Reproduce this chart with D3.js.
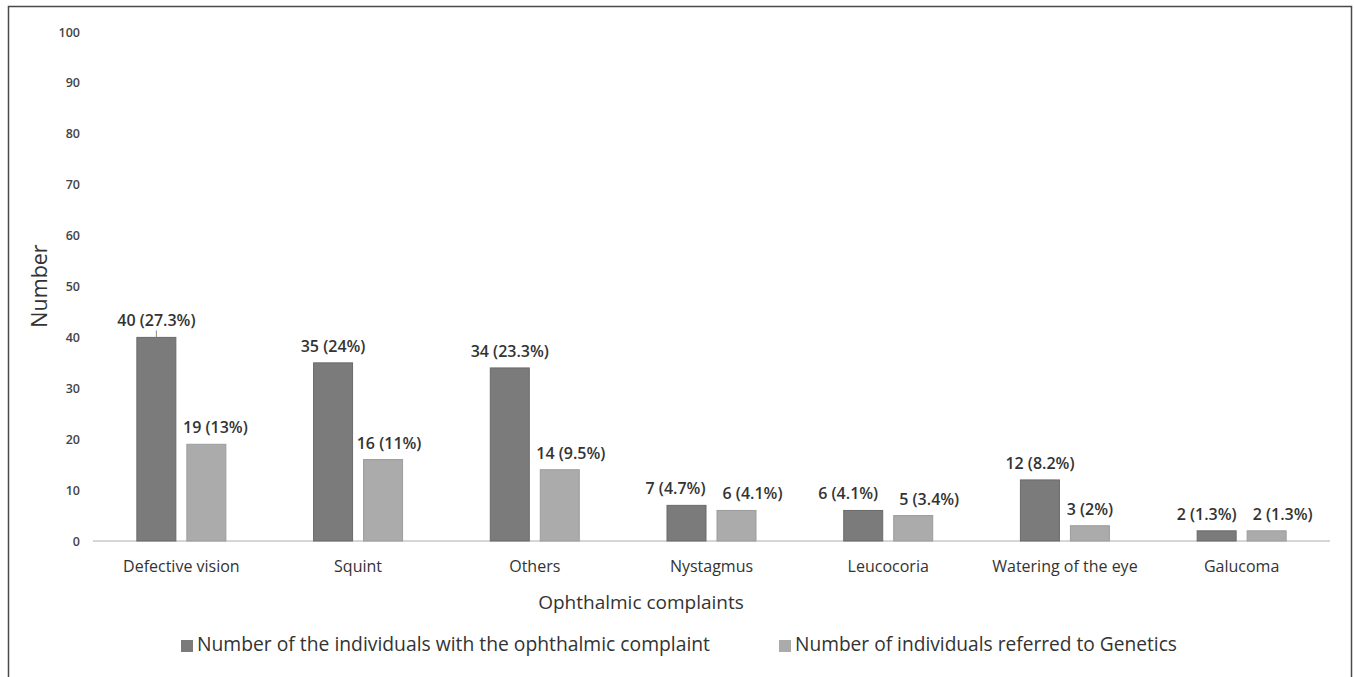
<!DOCTYPE html>
<meta charset="utf-8">
<title>Ophthalmic complaints</title>
<style>
body { margin: 0; background: white; font-family: 'Open Sans', sans-serif; }
svg { display: block; }
</style>
<body>
<script src="https://d3js.org/d3.v7.min.js"></script>
<script>
// data
const categories = ["Defective vision", "Squint", "Others", "Nystagmus", "Leucocoria", "Watering of the eye", "Galucoma"];
const complaintCounts = [40, 35, 34, 7, 6, 12, 2];
const complaintPct = ["27.3%", "24%", "23.3%", "4.7%", "4.1%", "8.2%", "1.3%"];
const referredCounts = [19, 16, 14, 6, 5, 3, 2];
const referredPct = ["13%", "11%", "9.5%", "4.1%", "3.4%", "2%", "1.3%"];
const seriesNames = ["Number of the individuals with the ophthalmic complaint", "Number of individuals referred to Genetics"];
const yTicks = [0, 10, 20, 30, 40, 50, 60, 70, 80, 90, 100];

// layout: sideways nudges of the value labels, as they sit in the picture
const nudgeDark = [0, 0, 0, -11, -15, 0, -10];
const nudgeLight = [9, 6, 11, 16, 16, 0, 16];

const W = 1354, H = 677;
const plotLeft = 93, plotRight = 1330, plotTop = 32, plotBottom = 541;
const colors = ["#7b7b7b", "#ababab"];
const strokes = ["#6a6a6a", "#9c9c9c"];

const svg = d3.select("body").append("svg")
    .attr("width", W)
    .attr("height", H);

// frame
svg.append("path")
    .attr("d", "M8.5,677 V6.5 H1351.5 V677")
    .attr("fill", "none")
    .attr("stroke", "#4a4a4a")
    .attr("stroke-width", 1.5);

const x = d3.scaleBand()
    .domain(categories)
    .range([plotLeft, plotRight]);

const x1 = d3.scaleBand()
    .domain([0, 1])
    .range([0, 89])
    .paddingInner(0.22);

const y = d3.scaleLinear()
    .domain([0, 100])
    .range([plotBottom, plotTop]);

// y tick labels (no axis line)
const yAxis = svg.append("g")
    .attr("transform", "translate(80,0)")
    .call(d3.axisLeft(y).tickValues(yTicks).tickSize(0).tickPadding(0));
yAxis.select(".domain").remove();
yAxis.selectAll("text")
    .style("font-family", "'Open Sans', sans-serif")
    .style("font-size", "12.5px")
    .style("font-weight", "600")
    .attr("fill", "#444");

// baseline
svg.append("line")
    .attr("x1", plotLeft).attr("x2", plotRight)
    .attr("y1", y(0)).attr("y2", y(0))
    .attr("stroke", "#d6d6d6")
    .attr("stroke-width", 2);

const rows = categories.map((c, i) => ({
  cat: c,
  vals: [
    {s: 0, v: complaintCounts[i], p: complaintPct[i], n: nudgeDark[i]},
    {s: 1, v: referredCounts[i], p: referredPct[i], n: nudgeLight[i]}
  ]
}));

const groupX = d => x(d) + x.bandwidth() / 2 - 44.5;

const groups = svg.selectAll("g.grp")
  .data(rows)
  .enter().append("g")
    .attr("class", "grp")
    .attr("transform", d => "translate(" + groupX(d.cat) + ",0)");

groups.selectAll("rect")
  .data(d => d.vals)
  .enter().append("rect")
    .attr("x", d => x1(d.s))
    .attr("y", d => y(d.v))
    .attr("width", x1.bandwidth())
    .attr("height", d => y(0) - y(d.v))
    .attr("fill", d => colors[d.s])
    .attr("stroke", d => strokes[d.s])
    .attr("stroke-width", 1);

groups.selectAll("text.val")
  .data(d => d.vals)
  .enter().append("text")
    .attr("class", "val")
    .attr("x", d => x1(d.s) + x1.bandwidth() / 2 + d.n)
    .attr("y", d => y(d.v) - 11)
    .attr("text-anchor", "middle")
    .style("font-size", "16px")
    .style("font-weight", "600")
    .attr("fill", "#333")
    .text(d => d.v + " (" + d.p + ")");

// little stub above the first bar
const stubX = groupX(categories[0]) + x1(0) + x1.bandwidth() / 2;
svg.append("line")
    .attr("x1", stubX).attr("x2", stubX)
    .attr("y1", y(complaintCounts[0]) - 7)
    .attr("y2", y(complaintCounts[0]))
    .attr("stroke", "#8a8a8a")
    .attr("stroke-width", 1);

// category labels
svg.selectAll("text.cat")
  .data(categories)
  .enter().append("text")
    .attr("class", "cat")
    .attr("x", d => x(d) + x.bandwidth() / 2)
    .attr("y", 572)
    .attr("text-anchor", "middle")
    .style("font-size", "16px")
    .attr("fill", "#333")
    .text(d => d);

// axis titles
svg.append("text")
    .attr("x", 641)
    .attr("y", 609)
    .attr("text-anchor", "middle")
    .style("font-size", "19px")
    .attr("fill", "#333")
    .text("Ophthalmic complaints");

svg.append("text")
    .attr("transform", "translate(47,286) rotate(-90)")
    .attr("text-anchor", "middle")
    .style("font-size", "21.5px")
    .attr("fill", "#333")
    .text("Number");

// legend
const legendX = [181, 779];
const legendW = [513, 382];
const legend = svg.selectAll("g.leg")
  .data(seriesNames)
  .enter().append("g")
    .attr("class", "leg")
    .attr("transform", (d, i) => "translate(" + legendX[i] + ",651)");

legend.append("rect")
    .attr("x", 0).attr("y", -11)
    .attr("width", 12).attr("height", 12)
    .attr("fill", (d, i) => colors[i]);

legend.append("text")
    .attr("x", 16)
    .attr("y", 0)
    .attr("textLength", (d, i) => legendW[i])
    .attr("lengthAdjust", "spacingAndGlyphs")
    .style("font-size", "20px")
    .attr("fill", "#333")
    .text(d => d);
</script>
</body>
